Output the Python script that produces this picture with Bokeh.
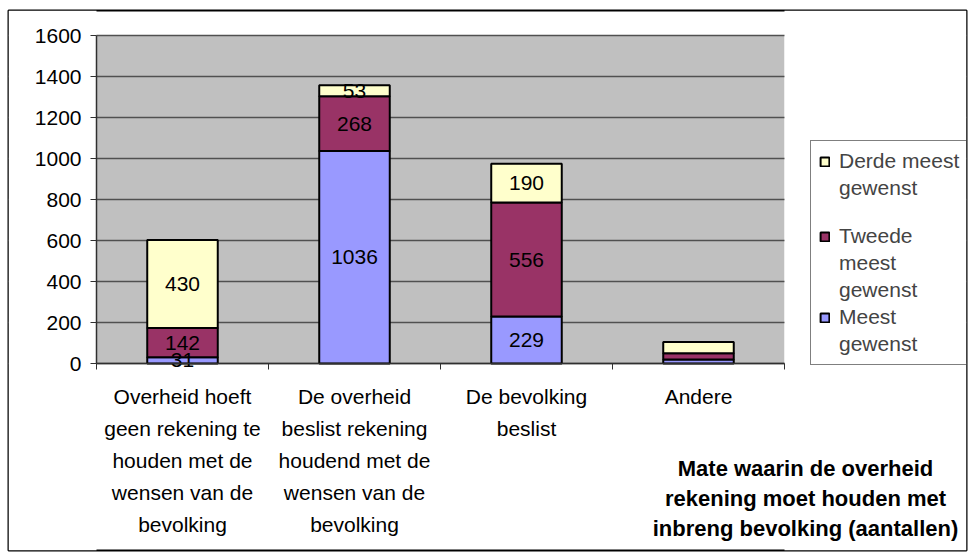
from bokeh.plotting import figure
from bokeh.models import (ColumnDataSource, FixedTicker, Legend, LegendItem, Label, Range1d,
                          LinearAxis, Grid, BoxAnnotation)
from bokeh.core.properties import value
from bokeh.embed import file_html
from bokeh.resources import INLINE

# ---- data ----
categories = [
    "Overheid hoeft\ngeen rekening te\nhouden met de\nwensen van de\nbevolking",
    "De overheid\nbeslist rekening\nhoudend met de\nwensen van de\nbevolking",
    "De bevolking\nbeslist",
    "Andere",
]
meest = [31, 1036, 229, 20]
tweede = [142, 268, 556, 30]
derde = [430, 53, 190, 55]
label_shown = [True, True, True, False]
series_keys = ["meest", "tweede", "derde"]
series_names = [["Meest", "gewenst"], ["Tweede", "meest", "gewenst"], ["Derde meest", "gewenst"]]
series_colors = ["#9999FF", "#993366", "#FFFFCC"]
y_ticks = [0, 200, 400, 600, 800, 1000, 1200, 1400, 1600]
y_max = 1600
title_lines = ["Mate waarin de overheid", "rekening moet houden met", "inbreng bevolking (aantallen)"]

FONT = "Liberation Sans"
W, H = 968, 552

# ---- layout geometry (pixels on the page) ----
frame_l, frame_r, frame_t, frame_b = 8, 966, 10, 550       # outer chart border
plot_l, plot_r, plot_t, plot_b = 96, 784, 35, 363           # grey plotting area
ncat = len(categories)
px_x = (plot_r - plot_l) / ncat
px_y = (plot_b - plot_t) / y_max

def dx(px):
    return (px - plot_l) / px_x

def dy(py):
    return (plot_b - py) / px_y

xs = [i + 0.5 for i in range(ncat)]
src = ColumnDataSource(dict(x=xs, meest=meest, tweede=tweede, derde=derde))

p = figure(width=W, height=H, output_backend="svg", toolbar_location=None, title=None,
           x_axis_type=None, y_axis_type=None,
           x_range=Range1d(dx(frame_l), dx(frame_r)), y_range=Range1d(dy(frame_b), dy(frame_t)),
           min_border_left=frame_l, min_border_top=frame_t,
           min_border_right=W - frame_r, min_border_bottom=H - frame_b)
p.background_fill_color = "white"
p.border_fill_color = "white"
p.outline_line_color = "black"
p.outline_line_width = 2

# grey plotting area
p.add_layout(BoxAnnotation(left=0, right=ncat, bottom=0, top=y_max, fill_color="#C0C0C0",
                           fill_alpha=1, line_color=None, level="image"))

grid = Grid(dimension=1, ticker=FixedTicker(ticks=y_ticks), bounds=(0, ncat),
            grid_line_color="#505050", grid_line_width=1.5)
p.add_layout(grid)
# keep the grid lines inside the grey plotting area
p.add_layout(BoxAnnotation(right=0, fill_color="white", fill_alpha=1, line_color=None, level="underlay"))
p.add_layout(BoxAnnotation(left=ncat, fill_color="white", fill_alpha=1, line_color=None, level="underlay"))

rs = p.vbar_stack(series_keys, x="x", width=0.41, source=src, color=series_colors,
                  line_color="black", line_width=2)
blank = p.vbar(x=[], top=[], width=0.41, fill_alpha=0, line_alpha=0)

# data labels
lx, ly, lt = [], [], []
for i, x in enumerate(xs):
    if not label_shown[i]:
        continue
    base = 0
    for vals in (meest, tweede, derde):
        v = vals[i]
        lx.append(x); ly.append(base + v / 2); lt.append(str(v))
        base += v
p.text(x=lx, y=ly, text=lt, text_align="center", text_baseline="middle",
       text_font=value(FONT), text_font_size="21px", text_color="black")

# axes
yaxis = LinearAxis(fixed_location=0, bounds=(0, y_max), ticker=FixedTicker(ticks=y_ticks),
                   axis_line_color="#303030", axis_line_width=1.5,
                   major_tick_out=6, major_tick_in=0, major_tick_line_color="#303030",
                   minor_tick_line_color=None,
                   major_label_text_font=FONT, major_label_text_font_size="21px",
                   major_label_text_color="black", major_label_standoff=9)
p.add_layout(yaxis, "left")

xaxis = LinearAxis(fixed_location=0, bounds=(0, ncat),
                   ticker=FixedTicker(ticks=xs, minor_ticks=list(range(ncat + 1))),
                   major_label_overrides={x: c for x, c in zip(xs, categories)},
                   axis_line_color="#303030", axis_line_width=1.5,
                   major_tick_line_color=None, minor_tick_line_color="#303030",
                   minor_tick_out=6, minor_tick_in=0,
                   major_label_text_font=FONT, major_label_text_font_size="21px",
                   major_label_text_color="black", major_label_text_line_height=1.4,
                   major_label_standoff=15)
p.add_layout(xaxis, "below")

# legend (Derde on top); swatch on the first line of each entry
items = []
for n, k in enumerate((2, 1, 0)):
    if n == 1:
        items.append(LegendItem(label="", renderers=[blank]))
    for j, line in enumerate(series_names[k]):
        items.append(LegendItem(label=line, renderers=[rs[k] if j == 0 else blank]))
legend = Legend(items=items, location=(810 - frame_l, frame_b - 365),
                border_line_color="black", border_line_width=1,
                background_fill_color="white", label_text_font=FONT, label_text_font_size="21px",
                glyph_width=11, glyph_height=11, label_standoff=9, label_height=18,
                padding=8, spacing=3, margin=0)
p.add_layout(legend, "center")

# chart title, bottom right
title_cx = 805
title_ys = [468, 498, 528]
for t, ty in zip(title_lines, title_ys):
    p.add_layout(Label(x=dx(title_cx), y=dy(ty), text=t, text_align="center", text_baseline="middle",
                       text_font=FONT, text_font_size="22px", text_font_style="bold",
                       text_color="black"))

open("out.html", "w").write(file_html(p, INLINE))
